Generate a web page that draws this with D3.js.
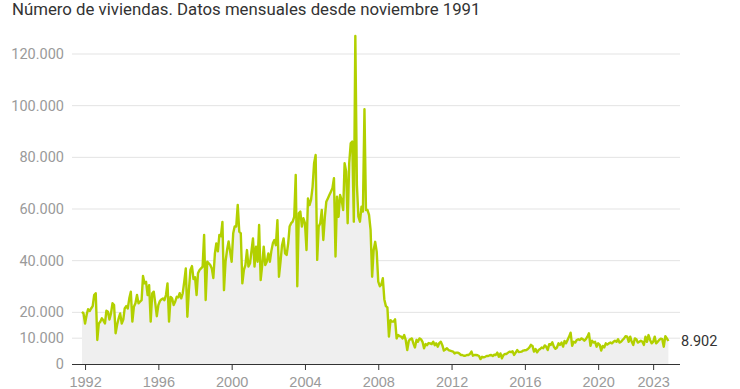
<!DOCTYPE html>
<html>
<head>
<meta charset="utf-8">
<script src="https://cdn.jsdelivr.net/npm/d3@7"></script>
<style>
  body { margin: 0; background: #fff; }
  svg { font-family: Roboto, "Noto Sans", sans-serif; }
  .grid line { stroke: #e3e3e3; stroke-width: 1; }
  .y-label { fill: #9a9a9a; font-size: 14.5px; }
  .x-axis text { fill: #9a9a9a; font-size: 14.5px; }
  .x-axis path, .x-axis line { stroke: #333; }
</style>
</head>
<body>
<div id="chart"></div>
<script>
// viviendas por mes, desde noviembre 1991 (una fila por año)
const y1991 = [20200, 19600];
const y1992 = [15700, 19000, 21200, 20500, 21500, 22400, 26700, 27400, 9300, 15700, 16400, 17700];
const y1993 = [16800, 15700, 20600, 20200, 17200, 19600, 23500, 22800, 11900, 15200, 17700, 19600];
const y1994 = [15700, 17200, 21500, 22400, 21500, 25400, 28000, 16400, 22200, 23500, 26700, 23500];
const y1995 = [24100, 24700, 34100, 31200, 31800, 26700, 30500, 16400, 27400, 28000, 23500, 18500];
const y1996 = [22800, 24400, 25000, 25400, 24700, 26700, 31200, 16400, 26000, 25400, 22800, 24100];
const y1997 = [26000, 25800, 27400, 25400, 27400, 32000, 37000, 18300, 28700, 36400, 37900, 32900];
const y1998 = [33600, 26700, 35100, 36400, 37000, 37700, 50000, 24800, 39600, 39000, 38300, 37000];
const y1999 = [33300, 42800, 46700, 43600, 50000, 49500, 55000, 28600, 39600, 44100, 47400, 43600];
const y2000 = [39600, 50600, 53200, 53200, 61600, 51200, 50600, 31200, 36400, 38300, 44100, 37700];
const y2001 = [39000, 44100, 48600, 37700, 45400, 39600, 53800, 32500, 38300, 45400, 38300, 39600];
const y2002 = [42800, 39600, 43600, 46700, 48000, 46000, 55700, 33800, 39600, 46000, 48600, 42800];
const y2003 = [42200, 46700, 53200, 54500, 55100, 57000, 73200, 30100, 58300, 59000, 53200, 56400];
const y2004 = [54500, 44100, 64100, 61500, 63500, 68600, 77700, 80900, 40300, 53200, 54500, 59600];
const y2005 = [48000, 57000, 62800, 64100, 65400, 66700, 68000, 71900, 41600, 64800, 57000, 65400];
const y2006 = [63500, 59600, 77700, 74500, 54500, 77700, 85400, 86100, 55100, 127000, 69300, 57000];
const y2007 = [55100, 60900, 59000, 98600, 59600, 59600, 57700, 51900, 33800, 44100, 47300, 43500];
const y2008 = [31900, 30100, 30700, 33200, 25000, 22400, 21900, 10600, 17000, 16400, 16400, 17300];
const y2009 = [9900, 11200, 10800, 10600, 9900, 11200, 9300, 5400, 9000, 9600, 9900, 8000];
const y2010 = [6400, 9300, 8600, 9900, 9600, 8600, 6100, 7700, 7300, 8100, 8000, 7700];
const y2011 = [8600, 7300, 8000, 6700, 8100, 8600, 7300, 5200, 5600, 6100, 5400, 5200];
const y2012 = [5000, 4800, 4100, 4400, 4400, 4100, 3500, 3500, 3200, 3200, 3500, 3500];
const y2013 = [3900, 4800, 3200, 3500, 3500, 3400, 3100, 1900, 2800, 2600, 2800, 3100];
const y2014 = [3100, 3400, 3500, 3100, 3600, 3500, 4400, 2800, 4100, 2200, 3500, 3900];
const y2015 = [3900, 4400, 4800, 4600, 4900, 3500, 4400, 5400, 4600, 4700, 4800, 5200];
const y2016 = [5300, 5400, 5800, 6400, 7400, 7000, 4800, 5800, 4500, 5400, 5800, 6400];
const y2017 = [6100, 7200, 6700, 5400, 7700, 7400, 8400, 6700, 5900, 6400, 8000, 7400];
const y2018 = [8300, 6700, 8900, 8000, 9300, 10600, 12100, 7000, 8600, 8300, 9300, 9600];
const y2019 = [9300, 9900, 9600, 9000, 9600, 10600, 11900, 7000, 9000, 8300, 8600, 6700];
const y2020 = [8000, 7400, 5200, 7000, 6400, 8000, 7500, 8000, 8300, 8000, 8600, 9000];
const y2021 = [8600, 9600, 8300, 8600, 9300, 9900, 10800, 10600, 8600, 10600, 8600, 7400];
const y2022 = [9900, 9600, 8300, 8600, 9000, 8600, 7400, 10600, 8600, 11200, 9300, 8000];
const y2023 = [8600, 10600, 8000, 8600, 9300, 9800, 9600, 6700, 10800, 9900, 8902];

const values = [].concat(y1991, y1992, y1993, y1994, y1995, y1996, y1997, y1998, y1999,
    y2000, y2001, y2002, y2003, y2004, y2005, y2006, y2007, y2008, y2009, y2010, y2011,
    y2012, y2013, y2014, y2015, y2016, y2017, y2018, y2019, y2020, y2021, y2022, y2023);

const yTicks = [0, 10000, 20000, 40000, 60000, 80000, 100000, 120000];
const xTickYears = [1992, 1996, 2000, 2004, 2008, 2012, 2016, 2020, 2023];
const title = "Número de viviendas. Datos mensuales desde noviembre 1991";

const start = new Date(1991, 10, 1);
const data = values.map(function(v, i) {
    return { date: d3.timeMonth.offset(start, i), value: v };
});

const locale = d3.formatLocale({ decimal: ",", thousands: ".", grouping: [3], currency: ["", " €"] });
const fmt = locale.format(",");

const width = 740, height = 389;

const svg = d3.select("#chart").append("svg")
    .attr("width", width)
    .attr("height", height);

const x = d3.scaleTime()
    .domain([start, data[data.length - 1].date])
    .range([82, 668.4]);

const y = d3.scaleLinear()
    .domain([0, 120000])
    .range([364, 54]);

// title
svg.append("text")
    .attr("x", 12)
    .attr("y", 15)
    .attr("fill", "#333")
    .style("font-size", "16.8px")
    .text(title);

// grid + y labels
const grid = svg.append("g").attr("class", "grid");
grid.selectAll("line")
    .data(yTicks.filter(function(d) { return d > 0; }))
    .enter().append("line")
    .attr("x1", 72)
    .attr("x2", 680)
    .attr("y1", function(d) { return y(d); })
    .attr("y2", function(d) { return y(d); });

svg.selectAll(".y-label")
    .data(yTicks)
    .enter().append("text")
    .attr("class", "y-label")
    .attr("x", 64)
    .attr("y", function(d) { return y(d); })
    .attr("dy", "0.35em")
    .attr("text-anchor", "end")
    .text(function(d) { return fmt(d); });

// area + line
const area = d3.area()
    .x(function(d) { return x(d.date); })
    .y0(y(0))
    .y1(function(d) { return y(d.value); });

const line = d3.line()
    .x(function(d) { return x(d.date); })
    .y(function(d) { return y(d.value); });

svg.append("path")
    .datum(data)
    .attr("fill", "#efefef")
    .attr("d", area);

svg.append("path")
    .datum(data)
    .attr("fill", "none")
    .attr("stroke", "#b2d000")
    .attr("stroke-width", 2.4)
    .attr("stroke-linejoin", "round")
    .attr("d", line);

// x axis
const xAxis = d3.axisBottom(x)
    .tickValues(xTickYears.map(function(yr) { return new Date(yr, 0, 1); }))
    .tickFormat(d3.timeFormat("%Y"))
    .tickSize(6)
    .tickSizeOuter(0)
    .tickPadding(7);

const gx = svg.append("g")
    .attr("class", "x-axis")
    .attr("transform", "translate(0," + y(0) + ")")
    .call(xAxis);

gx.select(".domain").attr("d", "M72,0.5H680");

// last value label
const last = data[data.length - 1];
svg.append("text")
    .attr("x", 681)
    .attr("y", y(last.value))
    .attr("dy", "0.35em")
    .attr("fill", "#333")
    .style("font-size", "14.5px")
    .text(fmt(last.value));
</script>
</body>
</html>
